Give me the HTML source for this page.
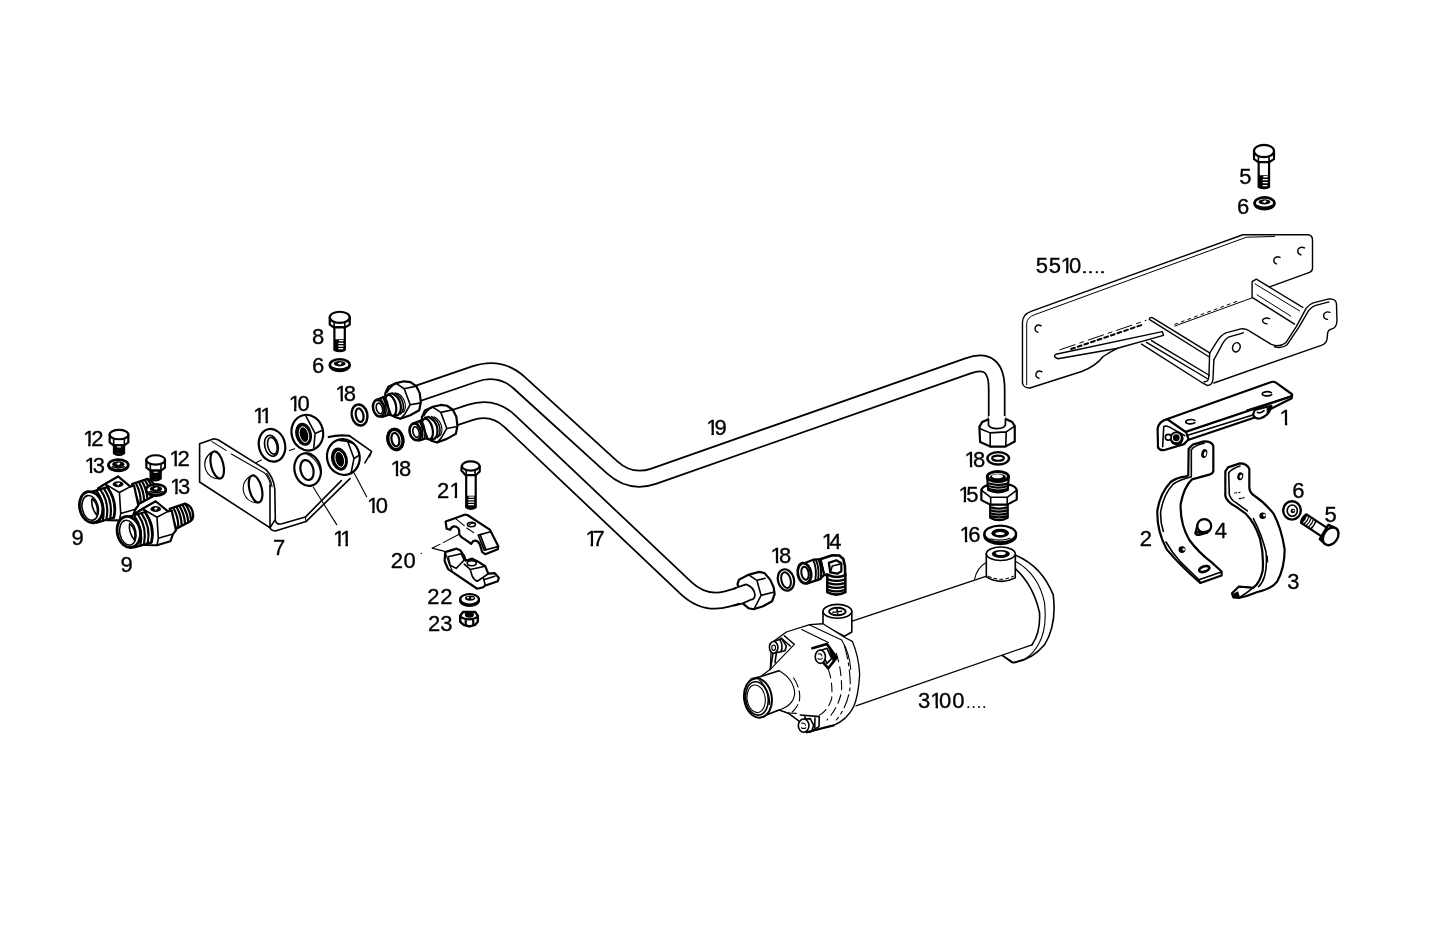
<!DOCTYPE html>
<html><head><meta charset="utf-8"><title>Parts diagram</title>
<style>
html,body{margin:0;padding:0;background:#fff;}
body{width:1443px;height:937px;overflow:hidden;}
svg{display:block;}
svg *{vector-effect:non-scaling-stroke;}
.l{fill:none;stroke:#000;stroke-width:1.6;stroke-linecap:round;stroke-linejoin:round;}
.t{fill:none;stroke:#000;stroke-width:1.1;stroke-linecap:round;stroke-linejoin:round;}
.h{fill:none;stroke:#000;stroke-width:2.2;stroke-linecap:round;stroke-linejoin:round;}
.w{fill:#fff;stroke:#000;stroke-width:1.6;stroke-linecap:round;stroke-linejoin:round;}
.wt{fill:#fff;stroke:#000;stroke-width:1.1;stroke-linecap:round;stroke-linejoin:round;}
.wh{fill:#fff;stroke:#000;stroke-width:2.2;stroke-linecap:round;stroke-linejoin:round;}
.k{fill:#000;stroke:none;}
#b5510 .l{stroke-width:1.4;}
#b5510 .t{stroke-width:1.0;}
.po{fill:none;stroke:#000;stroke-width:17.7;stroke-linejoin:round;}
.pi{fill:none;stroke:#fff;stroke-width:14.2;stroke-linejoin:round;}
text{font-family:"Liberation Sans",sans-serif;font-size:22px;fill:#000;stroke:#000;stroke-width:0.35;}
</style></head><body>
<svg width="1443" height="937" viewBox="0 0 1443 937">
<rect x="0" y="0" width="1443" height="937" fill="#fff"/>
<!-- 10_pipes.svg -->
<g id="pipes">
<path class="po" d="M 412,395.4 L 474,374.2 Q 500,365.3 519,382.6 L 612,467.3 Q 630.7,484.3 654,476.1 L 968,365.9 Q 996.7,355.5 996.7,389 L 996.7,428"/>
<path class="pi" d="M 410,396.1 L 474,374.2 Q 500,365.3 519,382.6 L 612,467.3 Q 630.7,484.3 654,476.1 L 968,365.9 Q 996.7,355.5 996.7,389 L 996.7,430"/>
<path class="po" d="M 448,419.8 L 470,412.5 Q 492.8,405 510,421.3 L 686,588 Q 704.5,605.4 727,599 L 752,591.8"/>
<path class="pi" d="M 446,420.5 L 470,412.5 Q 492.8,405 510,421.3 L 686,588 Q 704.5,605.4 727,599 L 754,591.2"/>
</g>
<!-- 20_bracket7.svg -->
<g id="bracket7" transform="translate(190,420) scale(0.13333)">
<!-- flange going up-right (behind nut) -->
<path class="h" d="M 1040,128 Q 1110,108 1195,118"/>
<path class="l" d="M 1195,118 L 1362,236 L 1345,275 M 1362,236 L 1312,322"/>
<path class="l" d="M 1200,440 L 870,762 L 640,832 Q 605,830 600,805"/>
<path class="l" d="M 1135,455 L 865,728 L 690,778 Q 640,790 638,740"/>
<path class="t" d="M 865,728 L 870,762"/>
<!-- front plate -->
<path class="w" d="M 72,178 L 180,140 L 210,148 L 570,372 Q 628,430 636,520 L 640,745 L 600,808 L 72,465 Z"/>
<path class="l" d="M 600,808 L 600,490"/>
<path class="t" d="M 165,162 L 270,228 M 310,255 L 560,398 Q 600,440 604,500"/>
<path class="t" d="M 575,400 Q 610,450 615,500"/>
<!-- holes -->
<g transform="translate(204,337) rotate(-14)"><ellipse class="h" cx="0" cy="0" rx="46" ry="104"/><path class="t" d="M -18,-102 Q -100,-70 -92,15 Q -82,85 -10,106"/></g>
<g transform="translate(492,517) rotate(-14)"><ellipse class="h" cx="0" cy="0" rx="46" ry="104"/><path class="t" d="M -18,-102 Q -100,-70 -92,15 Q -82,85 -10,106"/></g>
<!-- leader lines -->
<path class="t" d="M 925,505 L 1100,785 M 1232,400 L 1325,575 M 745,228 L 785,215 M 495,320 L 535,300"/>
<!-- washer 11 upper -->
<g transform="translate(615,190) rotate(-14)"><ellipse class="wh" cx="0" cy="0" rx="98" ry="124"/><ellipse class="l" cx="-5" cy="2" rx="50" ry="80"/><ellipse class="l" cx="2" cy="4" rx="34" ry="64"/></g>
<!-- washer 11 lower -->
<g transform="translate(882,372) rotate(-14)"><ellipse class="wh" cx="0" cy="0" rx="98" ry="124"/><ellipse class="h" cx="-5" cy="2" rx="48" ry="76"/><path class="t" d="M 20,-118 Q 95,-60 92,40"/></g>
<!-- nut 10 upper -->
<g transform="translate(880,95) rotate(-14)"><ellipse class="wh" cx="0" cy="0" rx="118" ry="135"/><ellipse class="k" cx="-30" cy="5" rx="62" ry="88"/><ellipse cx="-28" cy="8" rx="34" ry="60" fill="none" stroke="#fff" stroke-width="1"/><path class="l" d="M 20,-120 L 55,20 L 20,120 M 55,20 L 115,10"/></g>
<!-- nut 10 lower -->
<g transform="translate(1150,278) rotate(-14)"><ellipse class="wh" cx="0" cy="0" rx="122" ry="135"/><ellipse class="k" cx="-32" cy="8" rx="62" ry="88"/><ellipse cx="-30" cy="10" rx="34" ry="60" fill="none" stroke="#fff" stroke-width="1"/><path class="l" d="M 5,-128 L 60,-105 L 75,30 L 30,125 M 75,30 L 120,15 M 60,-105 L 100,-80"/></g>
</g>
<!-- 30_fit9.svg -->
<defs>
<g id="bolt12">
<!-- local coords: head top ellipse center at 0,0 ; scale 7.5 -->
<path class="wh" d="M -70,0 L -70,58 L -40,80 L 40,80 L 70,58 L 70,0 Z"/>
<path class="wh" d="M -38,80 L -38,140 Q 0,165 38,140 L 38,80 Z"/>
<ellipse class="wh" cx="0" cy="0" rx="70" ry="35"/>
<path class="l" d="M -40,32 L -40,80 M 40,32 L 40,80"/>
<path class="h" d="M -30,105 L 30,105 M -30,120 L 30,120 M -30,135 L 30,135"/>
<path class="k" d="M -38,82 L -38,140 Q -20,152 -14,152 L -14,82 Z M 38,82 L 38,140 Q 20,152 14,152 L 14,82 Z" opacity="0.9"/>
</g>
<g id="wash13">
<ellipse class="wh" cx="0" cy="6" rx="74" ry="40"/>
<ellipse class="wh" cx="0" cy="0" rx="74" ry="40" style="stroke-width:2.6"/>
<ellipse class="k" cx="0" cy="-6" rx="46" ry="23"/>
<path d="M -14,-8 L 14,-12 M 2,-18 L 4,2" stroke="#fff" stroke-width="1.2" fill="none"/>
<path class="l" d="M -45,14 Q 0,30 45,14"/>
</g>
<g id="fit9">
<!-- right threaded end -->
<path class="wh" d="M 785,628 L 900,590 Q 960,610 962,680 Q 960,710 940,722 L 835,778 Z"/>
<path class="h" d="M 815,625 Q 850,690 850,765 M 838,617 Q 873,680 875,752 M 860,610 Q 896,670 900,740 M 882,602 Q 920,660 925,728 M 900,592 Q 945,650 946,716"/>
<!-- hex body -->
<path class="wh" d="M 530,662 L 582,628 L 680,572 L 772,648 L 800,640 L 832,790 L 810,818 L 790,872 L 690,902 L 600,900 L 520,700 Z"/>
<path class="l" d="M 582,628 L 690,692 L 772,648 M 690,692 L 700,850 L 810,818 M 700,850 L 690,902 M 530,662 L 582,628 L 612,662"/>
<ellipse class="k" cx="680" cy="630" rx="40" ry="22"/>
<path d="M 668,628 L 694,624 M 680,618 L 682,640" stroke="#fff" stroke-width="1.2" fill="none"/>
<!-- thread section left -->
<path class="wh" d="M 470,690 L 600,652 Q 680,760 650,880 L 520,918 Z"/>
<path class="h" d="M 520,682 Q 590,780 565,905 M 548,673 Q 618,770 592,897 M 575,665 Q 645,765 620,890 M 600,655 Q 672,760 647,882"/>
<!-- left face -->
<g transform="translate(478,802) rotate(-12)"><ellipse class="wh" cx="0" cy="0" rx="86" ry="118" style="stroke-width:2.8"/><ellipse class="l" cx="-8" cy="4" rx="60" ry="94"/><path class="l" d="M 20,-60 Q 62,-10 30,70 M 20,-60 Q -5,0 30,70"/></g>
</g>
</defs>
<g id="fittings9" transform="translate(65,425) scale(0.13333)">
<use href="#fit9" transform="translate(-282,-186)"/>
<use href="#wash13" transform="translate(682,485)"/>
<use href="#fit9"/>
<use href="#bolt12" transform="translate(405,72)"/>
<use href="#wash13" transform="translate(400,300)"/>
<use href="#bolt12" transform="translate(680,262)"/>
</g>
<!-- 40_pipefit.svg -->
<defs>
<g id="pipefit">
<!-- coords: 10x zoom with origin (340,350) -->
<!-- nut -->
<path class="wh" d="M 452,432 L 482,366 L 560,330 L 640,312 L 702,320 L 760,360 L 795,430 L 806,520 L 790,600 L 700,650 L 602,686 L 545,668 L 505,630 L 450,520 Z"/>
<path class="l" d="M 560,333 L 640,386 L 760,360 M 640,386 L 700,546 L 792,530 M 700,546 L 645,640 L 602,686"/>
<path class="l" d="M 560,333 Q 500,360 470,420"/>
<!-- collar steps (right-half arcs) -->
<g transform="translate(548,540) rotate(-14)"><path class="wh" d="M -40,-112 L 0,-112 Q 58,-60 55,10 Q 50,85 5,112 L -35,112 Z"/><path class="l" d="M 28,-108 Q 84,-55 80,15 Q 74,85 32,108"/><path class="t" d="M 52,-100 Q 104,-50 100,18 Q 94,80 58,100"/></g>
<!-- collar left face -->
<g transform="translate(505,552) rotate(-14)"><ellipse class="wh" cx="0" cy="0" rx="52" ry="106"/></g>
<!-- stub -->
<path class="wh" d="M 355,500 L 440,466 L 505,640 L 420,668 Z"/>
<path class="l" d="M 425,472 Q 478,560 452,658 M 447,465 Q 500,555 476,650"/>
<path class="t" d="M 405,482 Q 455,565 432,664"/>
<g transform="translate(386,580) rotate(-14)"><ellipse class="wh" cx="0" cy="0" rx="56" ry="84" style="stroke-width:2.6"/><ellipse class="l" cx="6" cy="4" rx="30" ry="54"/></g>
</g>
<g id="oring18">
<g transform="rotate(-12)"><ellipse class="wh" cx="0" cy="0" rx="78" ry="106" style="stroke-width:2.4"/><ellipse class="l" cx="0" cy="2" rx="38" ry="68" style="stroke-width:2.2"/></g>
</g>
<g id="bolt8">
<!-- coords 7.5x, origin at head top ellipse center -->
<path class="wh" d="M -75,0 L -75,55 L -42,76 L 38,76 L 75,55 L 75,0 Z"/>
<path class="wh" d="M -40,76 L -40,245 Q 0,262 38,245 L 38,76 Z"/>
<ellipse class="wh" cx="0" cy="0" rx="75" ry="42"/>
<path class="l" d="M -42,36 L -42,76 M 38,36 L 38,76"/>
<path class="k" d="M -40,165 L 38,165 L 38,245 Q 0,262 -40,245 Z"/>
<path d="M -5,175 L 28,175 M -10,195 L 28,195 M -10,215 L 28,215 M -10,235 L 25,235" stroke="#fff" stroke-width="1.3" fill="none"/>
</g>
<g id="wash6">
<ellipse class="wh" cx="0" cy="6" rx="74" ry="42"/>
<ellipse class="wh" cx="0" cy="0" rx="74" ry="42" style="stroke-width:2.6"/>
<ellipse class="k" cx="0" cy="-8" rx="44" ry="20"/>
<path d="M -14,-8 L 14,-12 M 2,-20 L 4,0" stroke="#fff" stroke-width="1.2" fill="none"/>
<path class="h" d="M -55,22 Q 0,48 55,22"/>
</g>
</defs>
<g id="pipefits" transform="translate(340,350) scale(0.1003)">
<use href="#pipefit"/>
<use href="#pipefit" transform="translate(365,236)"/>
<use href="#oring18" transform="translate(195,648)"/>
<g style="stroke-width:3"><use href="#oring18" transform="translate(552,892)"/></g><g transform="translate(552,892) rotate(-12)"><ellipse class="h" cx="0" cy="0" rx="74" ry="102" style="stroke-width:3.2"/></g>
</g>
<g id="bolt8g" transform="translate(300,300) scale(0.13333)">
<use href="#bolt8" transform="translate(298,130)"/>
<use href="#wash6" transform="translate(298,486)"/>
</g>
<!-- 50_clamp.svg -->
<g id="bolt21" transform="translate(400,450) scale(0.1003)">
<path class="wh" d="M 615,160 L 612,205 L 652,250 L 758,250 L 795,215 L 795,160 Z"/>
<path class="wh" d="M 660,250 L 660,572 Q 705,600 755,572 L 755,250 Z"/>
<ellipse class="wh" cx="705" cy="160" rx="88" ry="46"/>
<path class="l" d="M 660,200 L 660,250 M 748,200 L 748,250"/>
<path class="k" d="M 660,455 L 755,455 L 755,572 Q 705,600 660,572 Z"/>
<path d="M 685,470 L 740,470 M 680,495 L 740,495 M 680,520 L 740,520 M 680,545 L 738,545" stroke="#fff" stroke-width="1.3" fill="none"/>
</g>
<g id="clamp20" transform="translate(400,500) scale(0.1003)">
<path class="t" d="M 585,345 L 430,425 M 400,440 L 320,480 L 445,512"/>
<rect class="k" x="206" y="526" width="12" height="12"/>
<path class="wh" d="M 455,215 L 555,180 L 650,145 L 680,155 L 895,295 L 980,460 L 975,492 L 850,540 L 820,520 L 795,440 Q 770,395 730,410 L 710,437 L 690,422 L 610,367 L 590,340 Q 600,282 560,266 Q 520,250 500,297 L 465,287 Z"/>
<path class="t" d="M 555,185 L 640,255 M 665,280 L 735,325"/>
<ellipse class="l" cx="712" cy="245" rx="40" ry="22"/>
<path class="t" d="M 690,250 Q 700,228 735,232"/>
<path class="l" d="M 780,350 L 895,320 M 780,350 L 840,500 M 800,348 L 858,498 M 840,500 L 975,465"/>
<path class="wh" d="M 450,520 L 565,485 L 600,500 L 640,560 L 655,605 L 720,585 L 770,610 L 850,660 L 880,735 L 945,730 L 985,775 L 975,810 L 845,855 L 830,870 L 770,885 L 480,690 L 445,610 Z"/>
<path class="l" d="M 480,565 L 610,535 L 640,600 L 590,650 L 560,682 L 500,650 L 480,565 M 640,640 L 700,692 L 850,660 M 700,692 L 720,760 Q 740,800 770,810 L 830,770 L 880,735 M 830,770 L 850,850 M 850,790 L 945,760"/>
<path class="t" d="M 455,530 L 490,640 L 520,700"/>
<ellipse class="l" cx="715" cy="630" rx="45" ry="25"/>
</g>
<g id="w22n23" transform="translate(420,570) scale(0.06723)">
<ellipse class="wh" cx="737" cy="450" rx="138" ry="82" style="stroke-width:2.6"/>
<ellipse class="wh" cx="737" cy="436" rx="138" ry="78" style="stroke-width:2.2"/>
<ellipse class="k" cx="745" cy="420" rx="75" ry="36"/>
<path d="M 700,412 L 730,408 M 760,420 L 800,414" stroke="#fff" stroke-width="1.4" fill="none"/>
<path class="wh" d="M 598,680 L 640,625 L 820,625 L 860,680 L 860,770 L 820,815 L 740,840 L 650,815 L 598,770 Z" style="stroke-width:2.4"/>
<ellipse class="k" cx="735" cy="665" rx="68" ry="45"/>
<path class="h" d="M 600,700 Q 730,770 858,700 M 680,745 L 680,825 M 790,745 L 795,820"/>
</g>
<!-- 60_cyl.svg -->
<g id="cylbody" transform="translate(720,520) scale(0.2496)">
<!-- coords 4x origin (720,520) -->
<!-- right end cap -->
<path class="w" d="M 1183,140 Q 1290,185 1335,300 Q 1350,420 1300,500 Q 1250,560 1175,572 L 1130,542 L 1183,240 Z"/>
<path class="t" d="M 1183,165 Q 1275,215 1300,330 Q 1312,440 1275,500 Q 1255,535 1225,555"/>
<!-- body -->
<path class="w" style="stroke:none" d="M 530,405 L 1068,225 L 1183,195 Q 1290,300 1250,500 L 545,745 Z"/>
<path class="l" style="stroke-width:1.3" d="M 530,405 L 1068,225 M 545,745 L 1250,500"/>
<path class="l" d="M 1183,195 Q 1255,260 1280,370 Q 1285,450 1250,500"/>
<path class="t" d="M 1130,542 L 1170,572 L 1225,556"/>
<!-- right port -->
<path class="t" d="M 1020,236 Q 1030,190 1067,170"/>
<path class="w" d="M 1067,135 L 1067,228 Q 1125,262 1183,232 L 1183,135 Z"/>
<ellipse class="w" cx="1125" cy="135" rx="58" ry="27"/>
<ellipse class="k" cx="1125" cy="136" rx="36" ry="16"/>
<ellipse cx="1125" cy="133" rx="20" ry="7" fill="#fff"/>
<path class="t" d="M 1075,225 Q 1125,250 1175,225" stroke-dasharray="3 3"/>
</g>
<g id="cylend" transform="translate(735,600) scale(0.13333)">
<!-- coords 7.5x origin (735,600) -->
<!-- left port -->
<path class="w" d="M 660,85 L 660,190 L 820,272 L 876,240 L 876,85 Z"/>
<ellipse class="w" cx="768" cy="85" rx="108" ry="52"/>
<ellipse class="l" cx="768" cy="86" rx="62" ry="28" style="stroke-width:2"/>
<path class="l" d="M 735,92 L 800,84 M 765,70 L 770,102"/>
<!-- flange back plate + arcs -->
<path class="w" style="stroke-width:1.3" d="M 385,240 L 560,185 L 660,178 L 830,285 L 880,310 Q 930,430 935,560 Q 925,720 890,800 Q 840,900 740,940 L 640,965 L 560,990 L 470,900 L 400,850 L 330,825 L 190,880 L 120,590 L 190,575 L 265,520 L 270,400 L 262,330 Z"/>
<path class="t" d="M 560,187 L 800,300 M 500,222 L 700,318"/>
<path class="t" d="M 820,340 Q 862,480 865,640 Q 850,790 760,900" stroke-dasharray="14 4 3 4"/>
<path class="t" d="M 760,400 Q 800,520 800,680 Q 780,800 690,900" stroke-dasharray="9 5"/>
<path class="t" d="M 700,520 Q 735,620 725,740 Q 700,830 620,872" stroke-dasharray="9 5"/>
<path class="t" d="M 800,300 Q 860,400 868,520"/>
<!-- cone lines -->
<path class="t" d="M 265,520 L 445,332 M 330,825 L 400,848 L 470,902"/>
<path class="t" d="M 400,848 L 460,850"/>
<!-- snout -->
<path class="w" style="stroke:none" d="M 120,590 L 330,530 Q 450,600 450,700 Q 440,790 330,825 L 190,880 Z"/>
<path class="l" d="M 150,585 L 190,575 L 330,530 M 190,880 L 330,825"/>
<path class="t" d="M 330,530 Q 440,590 448,700 Q 440,790 330,825"/>
<path class="t" d="M 440,585 Q 490,660 485,740 Q 475,800 430,840" stroke-dasharray="10 4"/>
<g transform="translate(172,735) rotate(-8)"><ellipse class="wh" cx="0" cy="0" rx="104" ry="148" style="stroke-width:2"/><ellipse class="l" cx="-8" cy="2" rx="84" ry="126"/><ellipse class="t" cx="-14" cy="4" rx="68" ry="104"/><path class="t" d="M 30,-130 Q 100,-50 80,60"/></g>
<!-- bolt 1 (top-left) -->
<path class="l" d="M 370,268 L 442,330 M 345,285 L 415,345 M 285,400 L 265,520 M 310,400 L 300,470"/>
<path class="w" d="M 290,312 L 350,290 L 385,345 L 375,380 L 300,398 Z"/>
<path class="l" d="M 335,295 Q 365,340 345,388"/>
<ellipse class="w" cx="290" cy="355" rx="32" ry="44"/>
<ellipse class="t" cx="290" cy="358" rx="14" ry="20"/>
<!-- bolt 2 (center-right) -->
<path class="h" d="M 580,362 L 690,330 L 762,432 L 700,512 L 662,470" style="stroke-width:2.6"/>
<path class="k" d="M 690,330 L 762,432 L 735,465 L 700,360 Z"/>
<path class="w" d="M 640,378 L 690,362 L 725,440 L 690,475 Z"/>
<ellipse class="w" cx="640" cy="425" rx="38" ry="50"/>
<path class="t" d="M 625,405 Q 650,400 652,420 M 622,440 Q 640,450 655,438"/>
<!-- bolt 3 (bottom) -->
<path class="l" d="M 490,862 L 632,875 L 630,950 L 560,990 M 600,872 L 598,960 M 520,868 L 535,900"/>
<path class="w" d="M 520,895 L 565,890 L 590,940 L 575,985 L 530,990 Z"/>
<ellipse class="w" cx="515" cy="942" rx="40" ry="50"/>
<path class="t" d="M 500,925 Q 525,918 528,940 M 498,958 Q 516,970 532,958"/>
<path class="h" d="M 540,992 L 640,966 L 740,940"/>
</g>
<!-- 70_rightcol.svg -->
<g id="nut19" transform="translate(930,410) scale(0.1003)">
<!-- coords 10x origin (930,410) -->
<path class="wh" d="M 492,170 L 520,120 L 585,92 L 755,90 L 820,120 L 845,160 L 845,315 L 750,365 L 600,365 L 500,320 Z"/>
<path class="l" d="M 492,170 L 500,188 L 600,228 L 760,218 L 845,160 M 600,228 L 600,365 M 760,218 L 755,365"/>
<path class="w" style="stroke:none" d="M 583,60 L 583,160 Q 668,200 752,160 L 752,60 Z"/>
<path class="l" d="M 583,90 L 583,150 Q 600,185 668,185 Q 740,185 752,150 L 752,90" style="stroke-width:1.7"/>
</g>
<g id="w18r" transform="translate(930,410) scale(0.1003)">
<ellipse class="wh" cx="680" cy="482" rx="108" ry="62" style="stroke-width:2.4"/>
<ellipse class="l" cx="678" cy="480" rx="58" ry="26" style="stroke-width:2.2"/>
</g>
<g id="fit15" transform="translate(930,460) scale(0.1003)">
<!-- lower thread -->
<path class="wh" d="M 600,440 L 600,575 Q 688,625 775,575 L 775,440 Z"/>
<path class="h" d="M 615,475 Q 688,495 760,475 M 615,505 Q 688,525 760,505 M 615,535 Q 688,555 760,535 M 615,562 Q 688,582 760,562"/>
<!-- hex -->
<path class="wh" d="M 512,300 L 512,400 L 600,445 L 770,445 L 865,395 L 865,300 Q 850,240 690,236 Q 530,240 512,300 Z"/>
<path class="l" d="M 512,300 L 605,372 L 770,372 L 865,300 M 605,372 L 605,445 M 770,372 L 770,445"/>
<!-- upper thread -->
<path class="wh" d="M 570,165 L 580,300 Q 680,345 775,300 L 785,165 Z"/>
<path class="h" d="M 590,235 Q 680,262 772,235 M 590,262 Q 680,290 772,262 M 592,290 Q 680,318 770,290"/>
<ellipse class="wh" cx="677" cy="165" rx="106" ry="50" style="stroke-width:3"/>
<ellipse class="k" cx="677" cy="172" rx="80" ry="34"/>
<ellipse cx="672" cy="162" rx="56" ry="20" fill="#fff"/>
</g>
<g id="w16" transform="translate(930,460) scale(0.1003)">
<ellipse class="wh" cx="700" cy="752" rx="158" ry="86"/>
<ellipse class="wh" cx="700" cy="738" rx="158" ry="84" style="stroke-width:2.4"/>
<ellipse class="k" cx="700" cy="730" rx="88" ry="44"/>
<ellipse cx="698" cy="732" rx="46" ry="15" fill="#fff"/>
<path class="t" d="M 600,785 Q 700,815 800,780"/>
</g>
<g id="end17" transform="translate(730,540) scale(0.1003)">
<!-- coords 10x origin (730,540): nut on pipe 17 end, oring, elbow 14 -->
<path class="wh" d="M 75,440 L 90,395 L 190,345 L 290,318 L 345,330 L 400,395 L 435,470 L 445,540 L 420,610 L 330,660 L 235,690 L 185,680 L 135,640 Z"/>
<path class="l" d="M 190,350 L 268,402 L 350,382 M 268,402 L 310,552 L 432,520 M 310,552 L 240,688"/>
<path class="w" style="stroke:none" d="M 60,470 L 160,440 Q 250,470 250,560 Q 240,600 215,595 L 100,645 Z"/>
<path class="l" d="M 40,483 L 160,442 Q 240,470 248,545 Q 250,590 212,594 L 128,632 L 40,655" style="stroke-width:1.7"/>
<g transform="translate(558,398) rotate(-15)"><ellipse class="wh" cx="0" cy="0" rx="80" ry="108" style="stroke-width:2.2"/><ellipse class="l" cx="0" cy="2" rx="46" ry="80" style="stroke-width:2"/></g>
<!-- elbow 14 -->
<path class="wh" d="M 970,340 L 970,520 Q 1060,570 1150,520 L 1150,340 Z" style="stroke-width:2.6"/>
<path class="h" d="M 985,395 Q 1060,420 1140,395 M 985,430 Q 1060,455 1140,430 M 985,465 Q 1060,490 1140,465 M 985,500 Q 1060,525 1140,500"/>
<path class="wh" d="M 900,192 L 1020,152 L 1090,155 L 1130,190 L 1146,260 L 1148,350 Q 1060,390 975,345 L 935,348 Z" style="stroke-width:2.6"/>
<path class="h" d="M 985,228 L 1060,202 L 1110,232 L 1110,312 L 1070,336 L 1000,322 Z"/>
<path class="l" d="M 1000,322 L 1020,260 L 1100,240"/>
<path class="wh" d="M 740,232 L 830,196 L 902,192 L 938,346 L 900,390 L 770,432 Z"/>
<path class="h" d="M 830,198 Q 870,290 850,405 M 856,195 Q 896,290 877,398 M 882,193 Q 920,285 904,388" style="stroke-width:1.9"/>
<g transform="translate(742,332) rotate(-10)"><ellipse class="wh" cx="0" cy="0" rx="66" ry="102" style="stroke-width:2.8"/><ellipse class="l" cx="6" cy="0" rx="36" ry="66" style="stroke-width:2"/></g>
</g>
<!-- 80_bracket5510.svg -->
<g id="b5510" transform="translate(1000,220) scale(0.2496)" style="stroke-width:1.35">
<!-- coords 4x origin (1000,220) -->
<!-- main plate -->
<path class="l" d="M 90,653 L 90,410 Q 90,378 127,365 L 973,59 L 1233,59 Q 1252,60 1252,80 L 1252,193 Q 1252,205 1240,210 L 1083,267"/>
<path class="t" d="M 107,660 L 107,415 Q 108,390 140,379 L 987,69 L 1100,66"/>
<path class="l" d="M 90,653 Q 92,672 120,673 L 327,607 Q 385,585 413,547 L 440,530 L 470,514"/>
<!-- gusset -->
<path class="l" d="M 224,538 L 650,447 L 655,462 M 232,556 L 467,515 L 655,462 M 224,538 Q 210,548 232,556"/>
<path class="t" d="M 240,520 L 585,402" stroke-dasharray="16 5 4 5"/>
<path class="l" d="M 285,517 L 575,418" stroke-dasharray="4 3" style="stroke-width:2"/>
<!-- shelf top-left edge -->
<path class="t" d="M 700,425 L 980,323 L 1010,312"/>
<path class="t" d="M 700,418 L 960,322" stroke-dasharray="3 4"/>
<!-- bar -->
<path class="l" d="M 598,398 Q 600,388 612,392 L 840,532 M 598,398 L 837,548"/>
<!-- lower flange triple lines -->
<path class="l" d="M 567,497 L 807,650 M 587,490 L 830,635 M 607,483 L 838,622"/>
<!-- vertical of Z -->
<path class="l" d="M 840,533 L 837,625 Q 836,650 818,648 M 857,560 L 853,640 Q 850,663 830,663 L 807,651"/>
<!-- wave arm -->
<path class="l" d="M 840,533 L 867,490 Q 885,460 905,452 L 965,436 Q 985,433 1000,445 L 1085,497 Q 1120,512 1145,492 L 1187,427 L 1227,353 Q 1240,337 1255,332 L 1318,316 Q 1346,316 1348,335 L 1350,400 Q 1350,426 1337,433 L 1320,440 Q 1312,445 1312,460 L 1310,478 Q 1306,496 1290,501 L 857,653"/>
<path class="l" d="M 857,560 L 885,508 Q 900,476 918,468 L 975,452 M 1100,508 Q 1130,516 1150,500 L 1197,430 L 1237,362 Q 1248,348 1262,343 L 1318,328"/>
<!-- upright -->
<path class="l" d="M 1010,310 L 1010,247 L 1027,237 L 1213,350 M 1010,310 L 1180,417"/>
<path class="t" d="M 1022,256 L 1200,364 M 1030,300 L 1165,385"/>
<!-- holes -->
<path class="l" d="M 165,424 Q 150,415 142,428 Q 136,445 152,450"/>
<path class="l" d="M 168,608 Q 152,600 145,613 Q 140,630 156,634"/>
<path class="l" d="M 1122,150 Q 1106,142 1098,156 Q 1094,172 1108,176"/>
<path class="l" d="M 1220,112 Q 1202,104 1194,118 Q 1190,136 1206,140"/>
<path class="l" d="M 1080,395 Q 1062,388 1052,400 Q 1050,414 1070,416"/>
<path class="l" d="M 1322,370 Q 1304,364 1297,378 Q 1294,396 1312,398"/>
<ellipse class="l" cx="947" cy="510" rx="15" ry="19" transform="rotate(20 947 510)"/>
</g>
<g id="b5top" transform="translate(1264,151) scale(0.1333,0.147)"><use href="#bolt8"/></g>
<g id="w6top" transform="translate(1264.5,203) scale(0.1333)"><use href="#wash6"/></g>
<!-- 85_parts123.svg -->
<g id="part1" transform="translate(1140,370) scale(0.13333)">
<!-- coords 7.5x origin (1140,370) -->
<!-- nut under right end -->
<path class="wh" d="M 848,335 Q 860,372 905,362 Q 960,345 980,290 L 985,268 L 860,300 Z"/>
<path class="k" d="M 950,285 L 988,268 L 982,300 Q 970,325 950,340 Z"/>
<path class="l" d="M 880,318 Q 905,330 930,305"/>
<!-- left tab -->
<path class="wh" d="M 205,368 Q 140,385 132,440 L 135,580 Q 150,606 185,600 L 330,556 L 365,520 L 345,465 Z"/>
<path class="l" d="M 178,425 L 170,575 M 178,425 Q 190,415 215,425 L 335,492"/>
<circle class="k" cx="275" cy="512" r="52"/>
<circle cx="272" cy="508" r="30" fill="none" stroke="#fff" stroke-width="1.2"/>
<circle class="w" cx="212" cy="505" r="22"/>
<!-- underside lines -->
<path class="h" d="M 360,525 L 850,360 M 965,300 L 1135,214"/>
<path class="l" d="M 352,492 L 840,340"/>
<!-- top face -->
<path class="wh" d="M 205,368 L 985,90 Q 1005,84 1022,96 L 1138,180 Q 1146,190 1134,198 L 342,464 Z"/>
<path class="h" d="M 1140,186 L 1138,210"/>
<path class="t" d="M 342,464 L 770,318 M 800,300 L 1134,196"/>
<path class="l" d="M 412,378 Q 385,365 350,378 Q 332,395 360,402 Q 395,408 412,395"/>
<path class="l" d="M 985,170 Q 960,155 925,168 Q 905,185 935,192 Q 970,198 988,185"/>
</g>
<g id="parts234" transform="translate(1140,480) scale(0.13333)">
<!-- coords 7.5x origin (1140,480) -->
<!-- part 2 -->
<path class="wh" d="M 365,-235 L 395,-265 L 480,-290 Q 540,-290 550,-255 L 550,-65 Q 545,-45 520,-40 L 390,-5 Q 330,50 305,180 Q 300,330 370,450 Q 440,545 540,620 L 612,686 L 612,716 L 452,772 Q 300,640 200,520 Q 125,380 130,230 Q 150,100 230,15 Q 280,-20 340,-25 L 362,-35 Z"/>
<path class="l" d="M 385,-225 L 385,-25 Q 290,0 250,30 Q 175,110 155,240 Q 152,320 175,385 M 195,465 Q 240,545 300,610 L 442,748 L 610,690 M 442,748 L 452,772"/>
<path class="l" d="M 385,-225 Q 400,-255 480,-275"/>
<ellipse class="k" cx="482" cy="-198" rx="22" ry="34" transform="rotate(15 482 -198)"/>
<ellipse cx="488" cy="-196" rx="9" ry="18" fill="#fff" transform="rotate(15 488 -196)"/>
<circle class="k" cx="315" cy="522" r="26"/>
<circle cx="328" cy="520" r="9" fill="#fff"/>
<ellipse class="h" cx="482" cy="668" rx="40" ry="20" transform="rotate(-18 482 668)" style="stroke-width:2.6"/>
<!-- part 4 -->
<path class="wh" d="M 432,335 L 415,400 Q 425,415 450,410 L 505,395"/>
<circle class="wh" cx="482" cy="345" r="52"/>
<path class="l" d="M 440,380 Q 480,400 525,372"/>
<circle class="wh" cx="435" cy="400" r="12"/>
<!-- part 3 -->
<path class="wh" d="M 640,-65 L 660,-95 L 750,-125 Q 800,-125 820,-85 L 820,60 Q 825,100 860,120 Q 930,165 1000,250 Q 1060,360 1085,520 Q 1085,660 1030,760 Q 990,815 880,840 L 800,870 L 740,885 L 700,880 L 690,850 L 740,800 L 850,808 Q 900,770 920,680 Q 930,560 900,440 Q 860,320 790,250 L 720,200 Q 650,165 640,120 Z"/>
<path class="l" d="M 665,-55 L 670,110 Q 685,150 720,170 L 805,232 M 850,290 Q 910,400 945,540 Q 955,650 935,720 Q 920,770 890,800"/>
<path class="t" d="M 955,570 L 958,615"/>
<path class="l" d="M 665,-55 Q 690,-85 750,-105"/>
<path class="l" d="M 740,800 L 850,808 M 740,885 Q 800,850 850,808"/>
<path class="k" d="M 695,855 L 735,835 L 750,880 L 705,882 Z"/>
<circle class="k" cx="920" cy="268" r="25"/>
<circle cx="932" cy="264" r="9" fill="#fff"/>
<ellipse class="k" cx="752" cy="-28" rx="22" ry="30" transform="rotate(15 752 -28)"/>
<ellipse cx="757" cy="-26" rx="9" ry="16" fill="#fff" transform="rotate(15 757 -26)"/>
<path class="t" d="M 710,98 L 725,96 M 740,95 L 750,92 M 745,140 L 760,138 M 770,135 L 780,132"/>
<!-- washer 6 lower-right -->
<ellipse class="wh" cx="1140" cy="228" rx="66" ry="69" style="stroke-width:2.4"/>
<ellipse class="l" cx="1142" cy="230" rx="38" ry="42"/>
<circle class="k" cx="1146" cy="232" r="17"/>
<circle cx="1150" cy="230" r="6" fill="#fff"/>
<!-- bolt 5 lower-right -->
<g transform="translate(1245,300) rotate(33.5)">
<path class="wh" d="M -20,-38 L 185,-38 L 185,38 L -20,38 Q -38,0 -20,-38 Z"/>
<path class="k" d="M -20,-38 L 75,-38 L 75,38 L -20,38 Q -38,0 -20,-38 Z"/>
<path d="M -5,-28 Q 5,0 -5,28 M 15,-30 Q 25,0 15,30 M 35,-30 Q 45,0 35,30 M 55,-30 Q 65,0 55,30" stroke="#fff" stroke-width="1.4" fill="none"/>
<path class="wh" d="M 160,-62 L 205,-70 L 215,70 L 165,62 Z" style="stroke-width:2.4"/>
<path class="k" d="M 160,20 L 205,25 L 212,70 L 165,62 Z"/>
<ellipse class="wh" cx="222" cy="0" rx="52" ry="72" style="stroke-width:2.4"/>
</g>
</g>
<!-- 90_labels.svg -->
<defs>
<clipPath id="c1"><rect x="1.2" y="-24" width="7" height="21"/><rect x="5.3" y="-3.2" width="2.4" height="4.2"/></clipPath>
</defs>
<g id="labels" opacity="0.999">
<g transform="translate(85.00,445.90)"><g transform="translate(-2.12,0)"><text clip-path="url(#c1)" x="0" y="0">1</text></g><text x="6.15" y="0">2</text></g>
<g transform="translate(86.70,472.60)"><g transform="translate(-2.12,0)"><text clip-path="url(#c1)" x="0" y="0">1</text></g><text x="6.12" y="0">3</text></g>
<g transform="translate(171.30,466.40)"><g transform="translate(-2.12,0)"><text clip-path="url(#c1)" x="0" y="0">1</text></g><text x="6.15" y="0">2</text></g>
<g transform="translate(172.00,493.90)"><g transform="translate(-2.12,0)"><text clip-path="url(#c1)" x="0" y="0">1</text></g><text x="6.12" y="0">3</text></g>
<g transform="translate(72.50,545.30)"><text x="-1.03" y="0">9</text></g>
<g transform="translate(121.50,571.90)"><text x="-1.03" y="0">9</text></g>
<g transform="translate(274.20,554.80)"><text x="-1.13" y="0">7</text></g>
<g transform="translate(255.00,423.10)"><g transform="translate(-2.12,0)"><text clip-path="url(#c1)" x="0" y="0">1</text></g><g transform="translate(5.24,0)"><text clip-path="url(#c1)" x="0" y="0">1</text></g></g>
<g transform="translate(290.80,410.90)"><g transform="translate(-2.12,0)"><text clip-path="url(#c1)" x="0" y="0">1</text></g><text x="6.70" y="0">0</text></g>
<g transform="translate(335.00,545.90)"><g transform="translate(-2.12,0)"><text clip-path="url(#c1)" x="0" y="0">1</text></g><g transform="translate(5.24,0)"><text clip-path="url(#c1)" x="0" y="0">1</text></g></g>
<g transform="translate(369.00,512.60)"><g transform="translate(-2.12,0)"><text clip-path="url(#c1)" x="0" y="0">1</text></g><text x="6.70" y="0">0</text></g>
<g transform="translate(337.40,401.20)"><g transform="translate(-2.12,0)"><text clip-path="url(#c1)" x="0" y="0">1</text></g><text x="6.30" y="0">8</text></g>
<g transform="translate(392.70,476.00)"><g transform="translate(-2.12,0)"><text clip-path="url(#c1)" x="0" y="0">1</text></g><text x="6.30" y="0">8</text></g>
<g transform="translate(313.00,343.90)"><text x="-0.96" y="0">8</text></g>
<g transform="translate(313.00,373.10)"><text x="-1.12" y="0">6</text></g>
<g transform="translate(438.00,497.60)"><text x="-1.11" y="0">2</text><g transform="translate(11.41,0)"><text clip-path="url(#c1)" x="0" y="0">1</text></g></g>
<g transform="translate(391.80,568.10)"><text x="-1.11" y="0">2</text><text x="11.76" y="0">0</text></g>
<g transform="translate(428.30,603.90)"><text x="-1.11" y="0">2</text><text x="11.92" y="0">2</text></g>
<g transform="translate(429.20,630.60)"><text x="-1.11" y="0">2</text><text x="11.18" y="0">3</text></g>
<g transform="translate(587.50,546.40)"><g transform="translate(-2.12,0)"><text clip-path="url(#c1)" x="0" y="0">1</text></g><text x="5.03" y="0">7</text></g>
<g transform="translate(708.30,434.60)"><g transform="translate(-2.12,0)"><text clip-path="url(#c1)" x="0" y="0">1</text></g><text x="6.23" y="0">9</text></g>
<g transform="translate(772.70,563.30)"><g transform="translate(-2.12,0)"><text clip-path="url(#c1)" x="0" y="0">1</text></g><text x="6.30" y="0">8</text></g>
<g transform="translate(823.80,548.60)"><g transform="translate(-2.12,0)"><text clip-path="url(#c1)" x="0" y="0">1</text></g><text x="5.46" y="0">4</text></g>
<g transform="translate(966.70,467.30)"><g transform="translate(-2.12,0)"><text clip-path="url(#c1)" x="0" y="0">1</text></g><text x="6.30" y="0">8</text></g>
<g transform="translate(960.50,502.30)"><g transform="translate(-2.12,0)"><text clip-path="url(#c1)" x="0" y="0">1</text></g><text x="5.78" y="0">5</text></g>
<g transform="translate(961.70,542.30)"><g transform="translate(-2.12,0)"><text clip-path="url(#c1)" x="0" y="0">1</text></g><text x="6.54" y="0">6</text></g>
<g transform="translate(918.80,708.10)"><text x="-0.84" y="0">3</text><g transform="translate(11.51,0)"><text clip-path="url(#c1)" x="0" y="0">1</text></g><text x="20.13" y="0">0</text><text x="33.45" y="0">0</text></g>
<g transform="translate(1036.70,272.90)"><text x="-0.88" y="0">5</text><text x="12.15" y="0">5</text><g transform="translate(23.95,0)"><text clip-path="url(#c1)" x="0" y="0">1</text></g><text x="32.36" y="0">0</text></g>
<g transform="translate(1240.00,184.40)"><text x="-0.88" y="0">5</text></g>
<g transform="translate(1238.00,213.60)"><text x="-1.12" y="0">6</text></g>
<g transform="translate(1281.70,425.30)"><g transform="translate(-2.12,0)"><text clip-path="url(#c1)" x="0" y="0">1</text></g></g>
<g transform="translate(1293.30,497.60)"><text x="-1.12" y="0">6</text></g>
<g transform="translate(1325.30,521.90)"><text x="-0.88" y="0">5</text></g>
<g transform="translate(1140.80,545.90)"><text x="-1.11" y="0">2</text></g>
<g transform="translate(1215.30,538.10)"><text x="-0.50" y="0">4</text></g>
<g transform="translate(1288.00,588.90)"><text x="-0.84" y="0">3</text></g>
</g>
<g id="dots" class="k">
<rect x="967.5" y="706.2" width="1.7" height="1.7"/>
<rect x="972.8" y="706.2" width="1.7" height="1.7"/>
<rect x="978.1" y="706.2" width="1.7" height="1.7"/>
<rect x="983.4" y="706.2" width="1.7" height="1.7"/>
<rect x="1083.2" y="271.2" width="2.6" height="2"/>
<rect x="1089.2" y="271.2" width="2.6" height="2"/>
<rect x="1095.8" y="271.2" width="2.0" height="2"/>
<rect x="1101.2" y="271.2" width="2.6" height="2"/>
</g>
</svg>
</body></html>
